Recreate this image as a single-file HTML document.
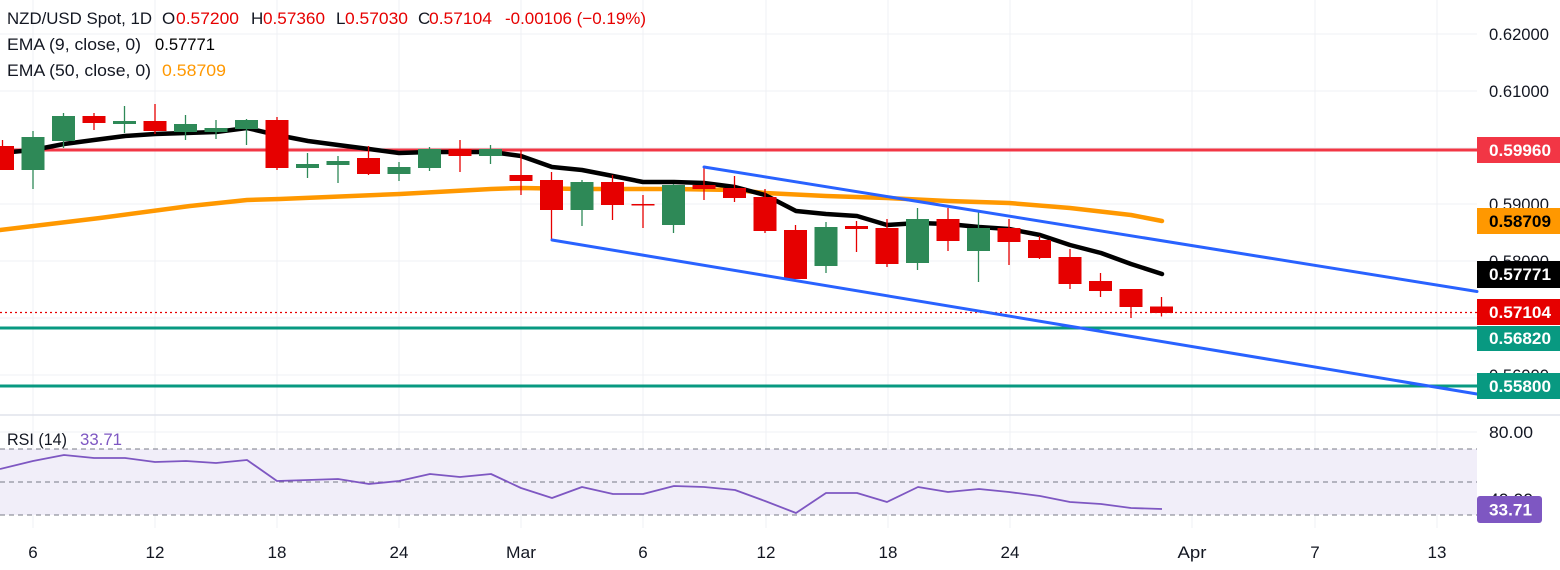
<!DOCTYPE html>
<html>
<head>
<meta charset="utf-8">
<style>
  html,body{margin:0;padding:0;background:#ffffff;}
  svg{display:block;}
  text{font-family:"Liberation Sans", sans-serif;}
</style>
</head>
<body>
<svg width="1560" height="570" viewBox="0 0 1560 570" xmlns="http://www.w3.org/2000/svg">
  <rect x="0" y="0" width="1560" height="570" fill="#ffffff"/>

  <!-- vertical grid lines -->
  <g stroke="#eff1f4" stroke-width="1">
    <line x1="33" y1="0" x2="33" y2="528"/>
    <line x1="155" y1="0" x2="155" y2="528"/>
    <line x1="277" y1="0" x2="277" y2="528"/>
    <line x1="399" y1="0" x2="399" y2="528"/>
    <line x1="521" y1="0" x2="521" y2="528"/>
    <line x1="643" y1="0" x2="643" y2="528"/>
    <line x1="766" y1="0" x2="766" y2="528"/>
    <line x1="888" y1="0" x2="888" y2="528"/>
    <line x1="1010" y1="0" x2="1010" y2="528"/>
    <line x1="1192" y1="0" x2="1192" y2="528"/>
    <line x1="1315" y1="0" x2="1315" y2="528"/>
    <line x1="1437" y1="0" x2="1437" y2="528"/>
  </g>
  <!-- horizontal grid lines main -->
  <g stroke="#eff1f4" stroke-width="1">
    <line x1="0" y1="34" x2="1477" y2="34"/>
    <line x1="0" y1="91" x2="1477" y2="91"/>
    <line x1="0" y1="148" x2="1477" y2="148"/>
    <line x1="0" y1="204" x2="1477" y2="204"/>
    <line x1="0" y1="261" x2="1477" y2="261"/>
    <line x1="0" y1="318" x2="1477" y2="318"/>
    <line x1="0" y1="375" x2="1477" y2="375"/>
    <line x1="0" y1="432" x2="1477" y2="432"/>
    <line x1="0" y1="499" x2="1477" y2="499"/>
  </g>

  <!-- pane separator -->
  <line x1="0" y1="415" x2="1560" y2="415" stroke="#e0e3eb" stroke-width="1.5"/>

  <!-- horizontal level lines -->
  <line x1="0" y1="150" x2="1477" y2="150" stroke="#f23645" stroke-width="3"/>
  <line x1="0" y1="328" x2="1477" y2="328" stroke="#089981" stroke-width="3"/>
  <line x1="0" y1="386" x2="1477" y2="386" stroke="#089981" stroke-width="3"/>
  <line x1="0" y1="312.5" x2="1477" y2="312.5" stroke="#e60000" stroke-width="1.2" stroke-dasharray="2,3"/>

  <!-- EMA 50 -->
  <polyline fill="none" stroke="#ff9800" stroke-width="4.5" stroke-linejoin="round" stroke-linecap="round"
    points="0,230 100,218 190,206 247,200 280,199 400,194 491,189 521,188 582,189 674,189 735,190 765,193 826,196 887,198 948,201 1009,203 1070,208 1131,215 1162,221"/>
  <!-- EMA 9 -->
  <polyline fill="none" stroke="#000000" stroke-width="4.5" stroke-linejoin="round" stroke-linecap="round"
    points="0,153 33,150 64,144 94,140 125,136 155,134 186,133 216,132 247,128 277,135 308,141 338,145 369,149 399,153 430,152 460,152 491,152 521,156 552,167 582,170 613,176 643,182 674,182 704,183 735,187 765,195 796,211 826,214 857,216 887,225 918,223 948,224 979,227 1009,229 1040,235 1070,245 1101,253 1131,264 1162,274"/>

  <!-- candles -->
  <g>
    <line x1="2.5" y1="140" x2="2.5" y2="170" stroke="#e60000" stroke-width="1.3"/>
    <rect x="-9" y="146" width="23" height="24" fill="#e60000"/>
    <line x1="33" y1="131" x2="33" y2="189" stroke="#2e8957" stroke-width="1.3"/>
    <rect x="21.5" y="137" width="23" height="33" fill="#2e8957"/>
    <line x1="63.5" y1="113" x2="63.5" y2="148" stroke="#2e8957" stroke-width="1.3"/>
    <rect x="52" y="116" width="23" height="25" fill="#2e8957"/>
    <line x1="94" y1="113" x2="94" y2="130" stroke="#e60000" stroke-width="1.3"/>
    <rect x="82.5" y="116" width="23" height="7" fill="#e60000"/>
    <line x1="124.5" y1="106" x2="124.5" y2="133" stroke="#2e8957" stroke-width="1.3"/>
    <rect x="113" y="121" width="23" height="3" fill="#2e8957"/>
    <line x1="155" y1="104" x2="155" y2="134" stroke="#e60000" stroke-width="1.3"/>
    <rect x="143.5" y="121" width="23" height="10" fill="#e60000"/>
    <line x1="185.5" y1="115" x2="185.5" y2="140" stroke="#2e8957" stroke-width="1.3"/>
    <rect x="174" y="124" width="23" height="8" fill="#2e8957"/>
    <line x1="216" y1="120" x2="216" y2="139" stroke="#2e8957" stroke-width="1.3"/>
    <rect x="204.5" y="128" width="23" height="4" fill="#2e8957"/>
    <line x1="246.5" y1="119" x2="246.5" y2="145" stroke="#2e8957" stroke-width="1.3"/>
    <rect x="235" y="120" width="23" height="9" fill="#2e8957"/>
    <line x1="277" y1="117" x2="277" y2="170" stroke="#e60000" stroke-width="1.3"/>
    <rect x="265.5" y="120" width="23" height="48" fill="#e60000"/>
    <line x1="307.5" y1="153" x2="307.5" y2="178" stroke="#2e8957" stroke-width="1.3"/>
    <rect x="296" y="164" width="23" height="4" fill="#2e8957"/>
    <line x1="338" y1="156" x2="338" y2="183" stroke="#2e8957" stroke-width="1.3"/>
    <rect x="326.5" y="161" width="23" height="4" fill="#2e8957"/>
    <line x1="368.5" y1="146" x2="368.5" y2="175" stroke="#e60000" stroke-width="1.3"/>
    <rect x="357" y="158" width="23" height="16" fill="#e60000"/>
    <line x1="399" y1="162" x2="399" y2="181" stroke="#2e8957" stroke-width="1.3"/>
    <rect x="387.5" y="167" width="23" height="7" fill="#2e8957"/>
    <line x1="429.5" y1="147" x2="429.5" y2="171" stroke="#2e8957" stroke-width="1.3"/>
    <rect x="418" y="149" width="23" height="19" fill="#2e8957"/>
    <line x1="460" y1="140" x2="460" y2="172" stroke="#e60000" stroke-width="1.3"/>
    <rect x="448.5" y="149" width="23" height="7" fill="#e60000"/>
    <line x1="490.5" y1="145" x2="490.5" y2="164" stroke="#2e8957" stroke-width="1.3"/>
    <rect x="479" y="149" width="23" height="7" fill="#2e8957"/>
    <line x1="521" y1="150" x2="521" y2="195" stroke="#e60000" stroke-width="1.3"/>
    <rect x="509.5" y="175" width="23" height="6" fill="#e60000"/>
    <line x1="551.5" y1="172" x2="551.5" y2="240" stroke="#e60000" stroke-width="1.3"/>
    <rect x="540" y="180" width="23" height="30" fill="#e60000"/>
    <line x1="582" y1="180" x2="582" y2="226" stroke="#2e8957" stroke-width="1.3"/>
    <rect x="570.5" y="182" width="23" height="28" fill="#2e8957"/>
    <line x1="612.5" y1="175" x2="612.5" y2="220" stroke="#e60000" stroke-width="1.3"/>
    <rect x="601" y="182" width="23" height="23" fill="#e60000"/>
    <line x1="643" y1="195" x2="643" y2="228" stroke="#e60000" stroke-width="1.3"/>
    <rect x="631.5" y="204" width="23" height="1.5" fill="#e60000"/>
    <line x1="673.5" y1="184" x2="673.5" y2="233" stroke="#2e8957" stroke-width="1.3"/>
    <rect x="662" y="185" width="23" height="40" fill="#2e8957"/>
    <line x1="704" y1="167" x2="704" y2="200" stroke="#e60000" stroke-width="1.3"/>
    <rect x="692.5" y="185" width="23" height="4" fill="#e60000"/>
    <line x1="734.5" y1="176" x2="734.5" y2="202" stroke="#e60000" stroke-width="1.3"/>
    <rect x="723" y="188" width="23" height="10" fill="#e60000"/>
    <line x1="765" y1="189" x2="765" y2="233" stroke="#e60000" stroke-width="1.3"/>
    <rect x="753.5" y="197" width="23" height="34" fill="#e60000"/>
    <line x1="795.5" y1="225" x2="795.5" y2="279" stroke="#e60000" stroke-width="1.3"/>
    <rect x="784" y="230" width="23" height="49" fill="#e60000"/>
    <line x1="826" y1="222" x2="826" y2="273" stroke="#2e8957" stroke-width="1.3"/>
    <rect x="814.5" y="227" width="23" height="39" fill="#2e8957"/>
    <line x1="856.5" y1="221" x2="856.5" y2="252" stroke="#e60000" stroke-width="1.3"/>
    <rect x="845" y="226" width="23" height="3" fill="#e60000"/>
    <line x1="887" y1="219" x2="887" y2="267" stroke="#e60000" stroke-width="1.3"/>
    <rect x="875.5" y="228" width="23" height="36" fill="#e60000"/>
    <line x1="917.5" y1="208" x2="917.5" y2="270" stroke="#2e8957" stroke-width="1.3"/>
    <rect x="906" y="219" width="23" height="44" fill="#2e8957"/>
    <line x1="948" y1="208" x2="948" y2="251" stroke="#e60000" stroke-width="1.3"/>
    <rect x="936.5" y="219" width="23" height="22" fill="#e60000"/>
    <line x1="978.5" y1="211" x2="978.5" y2="282" stroke="#2e8957" stroke-width="1.3"/>
    <rect x="967" y="228" width="23" height="23" fill="#2e8957"/>
    <line x1="1009" y1="219" x2="1009" y2="265" stroke="#e60000" stroke-width="1.3"/>
    <rect x="997.5" y="228" width="23" height="14" fill="#e60000"/>
    <line x1="1039.5" y1="236" x2="1039.5" y2="259" stroke="#e60000" stroke-width="1.3"/>
    <rect x="1028" y="240" width="23" height="18" fill="#e60000"/>
    <line x1="1070" y1="249" x2="1070" y2="289" stroke="#e60000" stroke-width="1.3"/>
    <rect x="1058.5" y="257" width="23" height="27" fill="#e60000"/>
    <line x1="1100.5" y1="273" x2="1100.5" y2="297" stroke="#e60000" stroke-width="1.3"/>
    <rect x="1089" y="281" width="23" height="10" fill="#e60000"/>
    <line x1="1131" y1="289" x2="1131" y2="318" stroke="#e60000" stroke-width="1.3"/>
    <rect x="1119.5" y="289" width="23" height="18" fill="#e60000"/>
    <line x1="1161.5" y1="297" x2="1161.5" y2="316.5" stroke="#e60000" stroke-width="1.3"/>
    <rect x="1150" y="306.5" width="23" height="6.5" fill="#e60000"/>
  </g>

  <!-- trend channel -->
  <line x1="704" y1="167" x2="1477" y2="291.5" stroke="#2962ff" stroke-width="3" stroke-linecap="round"/>
  <line x1="552" y1="240" x2="1477" y2="394" stroke="#2962ff" stroke-width="3" stroke-linecap="round"/>

  <!-- RSI pane -->
  <rect x="0" y="449" width="1477" height="66" fill="#f1eef9"/>
  <g stroke="#787b86" stroke-width="1" stroke-dasharray="5,4">
    <line x1="0" y1="449" x2="1477" y2="449"/>
    <line x1="0" y1="482" x2="1477" y2="482"/>
    <line x1="0" y1="515" x2="1477" y2="515"/>
  </g>
  <polyline fill="none" stroke="#7e57c2" stroke-width="1.8" stroke-linejoin="round"
    points="0,469 33,461 64,455 94,458 125,458 155,462 186,461 216,463 247,460 277,481 308,480 338,479 369,484 399,481 430,474 460,477 491,474 521,488 552,498 582,487 613,494 643,494 674,486 704,487 735,490 765,501 796,513 826,493 857,493 887,502 918,487 948,492 979,489 1009,492 1040,496 1070,502 1101,504 1131,508 1162,509"/>

  <!-- legend -->
  <g font-size="17" fill="#131722">
    <text x="7" y="24" textLength="145" lengthAdjust="spacingAndGlyphs">NZD/USD Spot, 1D</text>
    <text x="162" y="24">O</text>
    <text x="176" y="24" fill="#e60000" textLength="63" lengthAdjust="spacingAndGlyphs">0.57200</text>
    <text x="251" y="24">H</text>
    <text x="263" y="24" fill="#e60000" textLength="62" lengthAdjust="spacingAndGlyphs">0.57360</text>
    <text x="336" y="24">L</text>
    <text x="345" y="24" fill="#e60000" textLength="63" lengthAdjust="spacingAndGlyphs">0.57030</text>
    <text x="418" y="24">C</text>
    <text x="429" y="24" fill="#e60000" textLength="63" lengthAdjust="spacingAndGlyphs">0.57104</text>
    <text x="505" y="24" fill="#e60000" textLength="141" lengthAdjust="spacingAndGlyphs">-0.00106 (−0.19%)</text>

    <text x="7" y="50" textLength="134" lengthAdjust="spacingAndGlyphs">EMA (9, close, 0)</text>
    <text x="155" y="50" fill="#000000" textLength="60" lengthAdjust="spacingAndGlyphs">0.57771</text>

    <text x="7" y="76" textLength="144" lengthAdjust="spacingAndGlyphs">EMA (50, close, 0)</text>
    <text x="162" y="76" fill="#ff9800" textLength="64" lengthAdjust="spacingAndGlyphs">0.58709</text>

    <text x="7" y="445" textLength="60" lengthAdjust="spacingAndGlyphs">RSI (14)</text>
    <text x="80" y="445" fill="#7e57c2" textLength="42" lengthAdjust="spacingAndGlyphs">33.71</text>
  </g>

  <!-- price axis tick labels -->
  <g font-size="17" fill="#131722">
    <text x="1489" y="40" textLength="60" lengthAdjust="spacingAndGlyphs">0.62000</text>
    <text x="1489" y="97" textLength="60" lengthAdjust="spacingAndGlyphs">0.61000</text>
    <text x="1489" y="210" textLength="60" lengthAdjust="spacingAndGlyphs">0.59000</text>
    <text x="1489" y="267" textLength="60" lengthAdjust="spacingAndGlyphs">0.58000</text>
    <text x="1489" y="381" textLength="60" lengthAdjust="spacingAndGlyphs">0.56000</text>
    <text x="1489" y="438" textLength="44" lengthAdjust="spacingAndGlyphs">80.00</text>
    <text x="1489" y="505" textLength="44" lengthAdjust="spacingAndGlyphs">40.00</text>
  </g>

  <!-- price axis value boxes -->
  <g font-size="17" font-weight="bold">
    <rect x="1477" y="137" width="83" height="26" fill="#f23645"/>
    <text x="1489" y="156" fill="#ffffff" textLength="62" lengthAdjust="spacingAndGlyphs">0.59960</text>

    <rect x="1477" y="208" width="83" height="26" fill="#ff9800"/>
    <text x="1489" y="227" fill="#000000" textLength="62" lengthAdjust="spacingAndGlyphs">0.58709</text>

    <rect x="1477" y="261" width="83" height="27" fill="#000000"/>
    <text x="1489" y="280" fill="#ffffff" textLength="62" lengthAdjust="spacingAndGlyphs">0.57771</text>

    <rect x="1477" y="299" width="83" height="26" fill="#e60000"/>
    <text x="1489" y="318" fill="#ffffff" textLength="62" lengthAdjust="spacingAndGlyphs">0.57104</text>

    <rect x="1477" y="326" width="83" height="25" fill="#089981"/>
    <text x="1489" y="344" fill="#ffffff" textLength="62" lengthAdjust="spacingAndGlyphs">0.56820</text>

    <rect x="1477" y="373" width="83" height="26" fill="#089981"/>
    <text x="1489" y="392" fill="#ffffff" textLength="62" lengthAdjust="spacingAndGlyphs">0.55800</text>

    <rect x="1477" y="496" width="65" height="27" rx="3" ry="3" fill="#7e57c2"/>
    <text x="1489" y="515.5" fill="#ffffff" textLength="43" lengthAdjust="spacingAndGlyphs">33.71</text>
  </g>

  <!-- time axis labels -->
  <g font-size="17" fill="#131722" text-anchor="middle">
    <text x="33" y="558">6</text>
    <text x="155" y="558">12</text>
    <text x="277" y="558">18</text>
    <text x="399" y="558">24</text>
    <text x="521" y="558" textLength="30" lengthAdjust="spacingAndGlyphs">Mar</text>
    <text x="643" y="558">6</text>
    <text x="766" y="558">12</text>
    <text x="888" y="558">18</text>
    <text x="1010" y="558">24</text>
    <text x="1192" y="558" textLength="29" lengthAdjust="spacingAndGlyphs">Apr</text>
    <text x="1315" y="558">7</text>
    <text x="1437" y="558">13</text>
  </g>
</svg>
</body>
</html>
